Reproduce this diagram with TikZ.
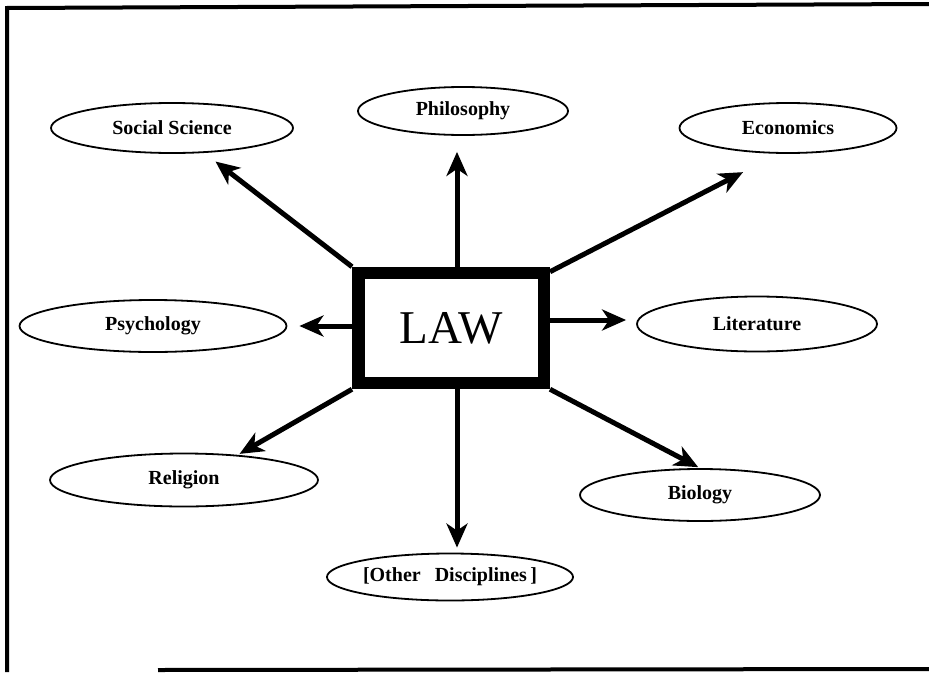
\documentclass[tikz,border=0pt]{standalone}
\usepackage{fontspec}
\setmainfont{Liberation Serif}
\usetikzlibrary{arrows.meta,shapes.geometric}

\begin{document}
\begin{tikzpicture}[x=1pt, y=-1pt,
      every node/.append style={font=\bfseries\fontsize{20}{23}\selectfont},
      arr/.style={-{Stealth[length=24pt,width=21pt,inset=7pt]}, line width=5pt}]
    \tikzstyle{field} = [draw, ellipse, line width=1.8pt, inner sep=0pt]
    \useasboundingbox (0,0) rectangle (929,672);
    % frame
    \draw[line width=4pt] (7,672) -- (7,8) -- (929,4);
    \draw[line width=4pt] (158,670) -- (929,669);
    % centre box
    \node (law) [draw, line width=12.5pt, minimum width=185.5pt, minimum height=110pt,
      font=\mdseries\fontsize{47}{52}\selectfont] at (451,328) {LAW};
    % disciplines
    \node (soc) [field, minimum width=242pt, minimum height=50pt] at (172,128) {Social Science};
    \node (phil) [field, minimum width=210pt, minimum height=48pt] at (463,111) {Philosophy};
    \node (eco) [field, minimum width=217pt, minimum height=50pt] at (788,128) {Economics};
    \node (psy) [field, minimum width=267pt, minimum height=52pt] at (153,326) {Psychology};
    \node (lit) [field, minimum width=240pt, minimum height=55pt] at (757,324) {Literature};
    \node (rel) [field, minimum width=268pt, minimum height=53pt] at (184,480) {Religion};
    \node (bio) [field, minimum width=240pt, minimum height=52pt] at (700,495) {Biology};
    \node (oth) [field, minimum width=226pt, minimum height=47pt] at (450,577)
      {[Other\hspace{0.7em}Disciplines\,]};
    % arrows
    \draw[arr, shorten >=14pt] (law.north west) -- (soc);
    \draw[arr, shorten >=16pt] ([xshift=6pt]law.north) -- ([xshift=6pt]law.north |- phil.south);
    \draw[arr, shorten >=40pt] ([yshift=-5pt]law.north east) -- (eco.250);
    \draw[arr, shorten >=12pt] (law.west |- psy) -- (psy.east);
    \draw[arr, shorten >=10pt] ([yshift=4pt]law.east |- lit) -- ([yshift=4pt]lit.west);
    \draw[arr, shorten >=2pt] (law.south west) -- (rel.25);
    \draw[arr, shorten >=5pt] ([xshift=6pt]law.south) -- ([xshift=6pt]law.south |- oth.north);
    \draw[arr, shorten >=2pt] (law.south east) -- (bio.north);
\end{tikzpicture}
\end{document}
